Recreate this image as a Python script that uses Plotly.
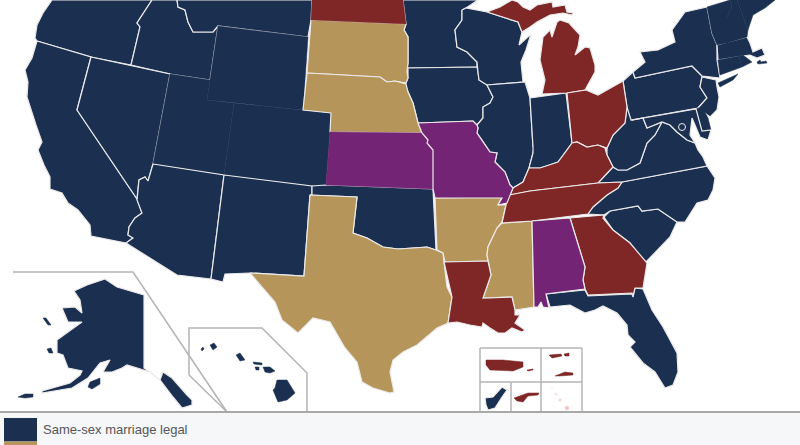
import plotly.graph_objects as go

# colours for each legal status
NAVY = '#1b3051'
TAN = '#b5955a'
RED = '#7f2627'
PURPLE = '#742474'
BORDER = '#ebe9e9'
FRAME = '#b4b4b4'

legend_label = 'Same-sex marriage legal'

# state outlines (x, y on an 800x445 sheet)
oregon = [(52,0),(43,13),(37,25),(35,38),(37,41),(91,57),(131,65),(140,27),(137,23),(152,0)]
idaho = [(152,0),(137,23),(140,27),(131,65),(170,74),(210,80),(218,26),(213,32),(193,32),(188,22),(185,10),(178,7),(177,0)]
montana = [(177,0),(178,7),(185,10),(188,22),(193,32),(213,32),(218,26),(308,37),(311,20),(312,0)]
wyoming = [(218,26),(308,37),(303,110),(207,100)]
california = [(37,41),(91,57),(77,110),(104,150),(137,199),(142,213),(135,218),(129,227),(128,235),(133,238),(126,243),(91,236),(90,225),(78,210),(68,203),(62,193),(50,189),(50,177),(44,165),(38,150),(42,142),(36,125),(32,113),(27,97),(28,82),(25,70),(32,58)]
nevada = [(91,57),(170,74),(153,164),(148,181),(145,177),(139,180),(137,199),(104,150),(77,110)]
utah = [(170,74),(210,80),(207,100),(234,103),(224,175),(153,164)]
arizona = [(153,164),(224,175),(211,279),(177,275),(126,243),(133,238),(128,235),(129,227),(135,218),(142,213),(137,200),(139,180),(145,177),(148,181)]
colorado = [(234,103),(303,110),(331,113),(330,132),(326,185),(312,186),(224,175)]
new_mexico = [(224,175),(312,186),(312,195),(310,195),(304,276),(250,273),(225,274),(223,282),(211,279)]
north_dakota = [(312,0),(403,0),(406,24),(311,20)]
south_dakota = [(311,20),(406,24),(404,30),(408,37),(408,63),(407,72),(408,78),(406,83),(395,81),(387,82),(380,77),(307,73)]
nebraska = [(307,73),(380,77),(387,82),(395,81),(406,84),(408,92),(413,103),(418,123),(422,133),(330,132),(331,113),(303,110)]
kansas = [(330,132),(422,133),(428,140),(427,143),(433,150),(433,189),(326,185)]
oklahoma = [(312,186),(326,185),(433,189),(436,250),(427,247),(413,248),(398,249),(383,247),(367,238),(353,233),(357,197),(310,195),(312,195)]
texas = [(310,195),(357,197),(353,233),(367,238),(383,247),(398,249),(413,248),(427,247),(436,250),(443,253),(444,262),(447,287),(452,297),(448,323),(437,328),(417,345),(403,352),(393,360),(390,372),(394,392),(390,393),(373,388),(362,382),(357,362),(345,348),(330,322),(313,318),(298,333),(282,320),(275,302),(250,273),(304,276)]
minnesota = [(403,0),(406,24),(404,30),(408,37),(408,63),(407,68),(477,67),(477,62),(467,52),(457,47),(455,30),(462,20),(462,10),(466,8),(478,0)]
iowa = [(408,68),(477,67),(478,72),(479,80),(487,85),(493,97),(490,103),(483,107),(483,118),(477,125),(473,121),(418,123),(413,103),(408,92),(405,85),(408,78)]
missouri = [(418,123),(473,121),(477,125),(478,128),(477,133),(482,140),(490,152),(497,153),(495,162),(505,172),(510,185),(513,188),(510,195),(507,203),(498,205),(502,198),(435,198),(433,189),(433,150),(427,143),(428,140),(422,133)]
arkansas = [(435,198),(502,197),(498,205),(506,205),(502,222),(497,228),(488,247),(487,255),(488,261),(445,262),(443,253),(437,250)]
louisiana = [(444,262),(488,261),(491,275),(483,298),(512,297),(515,310),(515,315),(520,315),(515,323),(525,330),(522,332),(512,328),(505,333),(498,333),(490,328),(483,323),(482,327),(470,325),(457,322),(448,323),(452,297)]
wisconsin = [(462,10),(462,20),(455,30),(457,47),(467,52),(477,62),(478,72),(479,80),(487,85),(523,82),(521,62),(526,50),(531,34),(519,45),(522,32),(518,22),(487,12),(466,8)]
illinois = [(487,85),(525,82),(530,98),(533,147),(535,140),(533,153),(529,168),(525,177),(523,182),(513,188),(510,185),(505,172),(495,162),(497,153),(490,152),(482,140),(477,133),(478,128),(477,125),(483,118),(483,107),(490,103),(493,97)]
indiana = [(530,98),(566,93),(572,143),(567,150),(558,162),(550,165),(540,168),(529,168),(533,153),(533,147)]
michigan_lower = [(560,20),(569,23),(580,35),(578,47),(575,55),(585,47),(590,48),(595,65),(595,72),(585,90),(567,93),(542,94),(545,80),(540,60),(543,37),(550,30),(552,37),(557,22)]
michigan_upper = [(487,12),(500,7),(512,0),(518,2),(523,7),(530,10),(537,5),(552,2),(553,7),(565,5),(567,12),(573,13),(572,15),(563,13),(550,15),(537,22),(530,27),(522,32),(518,22)]
ohio = [(567,93),(586,90),(598,95),(610,88),(623,81),(627,107),(625,123),(613,135),(607,148),(598,145),(587,147),(577,142),(572,143)]
kentucky = [(510,195),(513,188),(523,182),(525,177),(529,168),(540,168),(550,165),(558,162),(567,150),(572,143),(577,142),(587,147),(598,145),(605,148),(607,155),(613,167),(598,183),(530,191)]
tennessee = [(509,195),(530,191),(598,183),(622,182),(618,188),(607,195),(593,207),(588,214),(532,221),(502,223),(506,205)]
mississippi = [(502,223),(532,221),(534,307),(515,310),(512,297),(483,298),(491,275),(488,261),(487,255),(488,247),(497,228)]
alabama = [(532,221),(570,218),(585,267),(583,280),(585,289),(546,294),(549,308),(543,307),(541,302),(538,307),(534,307)]
georgia = [(570,218),(604,215),(603,218),(613,230),(630,243),(647,263),(643,288),(635,288),(633,296),(632,293),(588,295),(585,289),(583,280),(585,267)]
florida = [(546,294),(585,290),(588,296),(632,294),(633,297),(635,288),(643,289),(652,310),(663,327),(677,353),(678,372),(673,385),(665,388),(655,372),(643,363),(630,347),(635,342),(628,335),(627,325),(617,313),(603,306),(595,310),(585,313),(570,305),(550,307)]
south_carolina = [(604,217),(610,211),(638,206),(642,211),(658,209),(677,222),(670,237),(645,263),(630,243),(613,230)]
north_carolina = [(622,182),(707,166),(715,178),(713,190),(708,200),(697,203),(685,222),(677,222),(658,209),(642,211),(638,206),(610,211),(604,215),(588,214),(593,207),(607,195),(618,188)]
virginia = [(598,183),(613,167),(618,170),(627,170),(640,163),(647,143),(655,135),(662,122),(670,125),(677,132),(687,140),(695,143),(698,150),(703,157),(707,166),(622,182)]
west_virginia = [(627,107),(632,120),(643,118),(647,128),(662,122),(655,135),(647,143),(640,163),(627,170),(618,170),(613,167),(607,155),(607,148),(613,135),(625,123)]
pennsylvania = [(623,81),(633,72),(635,78),(692,66),(702,76),(700,87),(707,98),(698,108),(631,120),(627,107)]
new_york = [(635,78),(633,72),(645,62),(640,52),(658,50),(675,42),(672,30),(685,12),(707,7),(712,33),(717,45),(717,60),(720,78),(702,76),(692,66)]
long_island = [(718,83),(738,74),(733,80),(720,87)]
new_jersey = [(702,77),(716,80),(717,87),(719,97),(717,110),(710,117),(698,108),(707,98),(700,87)]
delaware = [(696,109),(702,107),(708,118),(711,130),(702,131)]
maryland = [(632,120),(696,109),(702,131),(711,130),(708,140),(700,137),(695,125),(692,118),(690,135),(695,143),(687,140),(677,132),(670,125),(662,122),(647,128),(643,118)]
massachusetts = [(717,45),(747,37),(750,43),(753,52),(762,48),(765,55),(757,58),(750,55),(742,56),(718,60)]
vermont = [(707,7),(730,0),(732,7),(727,17),(727,43),(717,45),(712,33)]
new_hampshire = [(730,0),(737,0),(748,30),(747,37),(727,43),(727,17),(732,7)]
maine = [(737,0),(775,0),(765,8),(753,15),(748,30)]
connecticut = [(718,60),(739,56),(742,67),(720,75)]
rhode_island = [(739,56),(743,55),(752,62),(742,67)]
cape_islands = [(757,62),(760,60),(761,62),(766,61),(767,63),(758,64)]
alaska = [(74,291),(87,285),(105,279),(117,287),(144,295),(144,368),(150,372),(160,380),(163,372),(172,378),(187,395),(192,400),(192,405),(182,408),(173,397),(160,380),(150,372),(143,370),(127,365),(122,368),(112,372),(103,372),(110,360),(100,363),(88,378),(72,388),(42,393),(42,391),(70,383),(80,375),(82,371),(68,368),(63,355),(57,353),(57,340),(68,332),(82,322),(68,322),(62,308),(75,307),(82,313),(80,300)]
kodiak = [(88,387),(90,382),(100,378),(100,384),(92,389)]
nunivak = [(47,349),(51,348),(53,353),(49,353)]
st_matthew = [(43,318),(46,318),(51,325),(48,325)]
st_lawrence = [(18,397),(25,394),(33,394),(33,397),(25,398)]
hawaii_big = [(275,388),(277,380),(287,380),(295,393),(287,400),(278,402),(273,390)]
maui = [(263,367),(270,367),(275,371),(270,373),(265,372)]
molokai = [(253,362),(262,363),(262,365),(254,364)]
lanai = [(255,367),(259,367),(259,370),(256,370)]
oahu = [(236,355),(240,353),(245,360),(240,361)]
kauai = [(210,345),(214,343),(217,347),(213,350)]
niihau = [(201,349),(203,347),(204,349),(202,351)]
puerto_rico = [(486,360),(503,360),(523,362),(523,367),(513,371),(490,370),(486,365)]
vieques = [(527,370),(533,369),(533,370),(528,371)]
us_vi_west = [(549,355),(561,354),(562,356),(552,358)]
us_vi_east = [(564,354),(569,353),(569,356),(565,356)]
st_croix = [(555,376),(565,372),(573,373),(573,375),(560,376)]
guam = [(485,398),(493,397),(502,387),(507,390),(502,397),(495,408),(488,410),(486,405)]
marianas = [(514,398),(528,393),(539,393),(538,395),(528,396),(523,402),(517,401)]

legal_states = [oregon, idaho, montana, wyoming, california, nevada, utah, arizona, colorado,
                new_mexico, oklahoma, minnesota, iowa, wisconsin, illinois, indiana, florida,
                south_carolina, north_carolina, virginia, west_virginia, pennsylvania, new_york,
                long_island, new_jersey, delaware, maryland, massachusetts, vermont,
                new_hampshire, maine, connecticut, rhode_island, cape_islands, alaska, kodiak,
                nunivak, st_matthew, st_lawrence, hawaii_big, maui, molokai, lanai, oahu, kauai,
                niihau, guam]
tan_states = [south_dakota, nebraska, texas, arkansas, mississippi]
red_states = [north_dakota, michigan_lower, michigan_upper, ohio, kentucky, tennessee, georgia,
              louisiana, puerto_rico, vieques, us_vi_west, us_vi_east, st_croix, marianas]
purple_states = [kansas, missouri, alabama]

# inset frames
alaska_frame = [(13,272),(133,272),(227,412)]
hawaii_frame = [(227,412),(189,375),(189,328),(262,328),(307,373),(307,412)]
territory_rows = [([480,582],[348,348]), ([480,582],[382,382]), ([480,480],[348,412]),
                  ([541,541],[348,412]), ([582,582],[348,412]), ([511,511],[382,412])]

# DC and the faded American Samoa dots
dc_x, dc_y = [682], [127]
samoa_x = [552, 556, 560, 567]
samoa_y = [388, 394, 400, 408]
samoa_colors = ['#fdeeee', '#f9d8da', '#f5c2c5', '#f2a9ae']

fig = go.Figure()

def add_shape(points, color):
    island = len(points) < 8
    fig.add_trace(go.Scatter(
        x=[p[0] for p in points] + [points[0][0]],
        y=[p[1] for p in points] + [points[0][1]],
        mode='lines',
        fill='toself',
        fillcolor=color,
        line=dict(color=color if island else BORDER, width=0.5 if island else 1.2),
        hoverinfo='skip',
        showlegend=False,
    ))

for shape in legal_states:
    add_shape(shape, NAVY)
for shape in tan_states:
    add_shape(shape, TAN)
for shape in red_states:
    add_shape(shape, RED)
for shape in purple_states:
    add_shape(shape, PURPLE)

# frames around the insets
for frame in [alaska_frame, hawaii_frame]:
    fig.add_trace(go.Scatter(x=[p[0] for p in frame], y=[p[1] for p in frame], mode='lines',
                             line=dict(color=FRAME, width=1.5), hoverinfo='skip', showlegend=False))
for xs, ys in territory_rows:
    fig.add_trace(go.Scatter(x=xs, y=ys, mode='lines', line=dict(color=FRAME, width=1.5),
                             hoverinfo='skip', showlegend=False))

fig.add_trace(go.Scatter(x=dc_x, y=dc_y, mode='markers', hoverinfo='skip', showlegend=False,
                         marker=dict(size=7, color=NAVY, line=dict(color=BORDER, width=1))))
fig.add_trace(go.Scatter(x=samoa_x, y=samoa_y, mode='markers', hoverinfo='skip', showlegend=False,
                         marker=dict(size=[4, 4, 4, 5], color=samoa_colors)))

# legend strip along the bottom
fig.add_shape(type='rect', x0=0, x1=800, y0=412, y1=445, fillcolor='#f6f7f9', line_width=0, layer='above')
fig.add_shape(type='line', x0=0, x1=800, y0=412, y1=412, line=dict(color='#a9a9a9', width=2), layer='above')
fig.add_shape(type='rect', x0=4, x1=37, y0=418, y1=441.5, fillcolor=NAVY, line_width=0, layer='above')
fig.add_shape(type='rect', x0=4, x1=37, y0=441.5, y1=445, fillcolor=TAN, line_width=0, layer='above')
fig.add_annotation(x=41, y=429, text=legend_label, showarrow=False, xanchor='left', yanchor='middle',
                   font=dict(family='Liberation Sans', size=13, color='#555555'))

fig.update_xaxes(range=[0, 800], visible=False, fixedrange=True)
fig.update_yaxes(range=[445, 0], visible=False, fixedrange=True)
fig.update_layout(
    width=800,
    height=445,
    margin=dict(l=0, r=0, t=0, b=0),
    paper_bgcolor='white',
    plot_bgcolor='white',
    showlegend=False,
)

fig.write_html("out.html", post_script="document.body.style.margin='0';", config=dict(displayModeBar=False))
